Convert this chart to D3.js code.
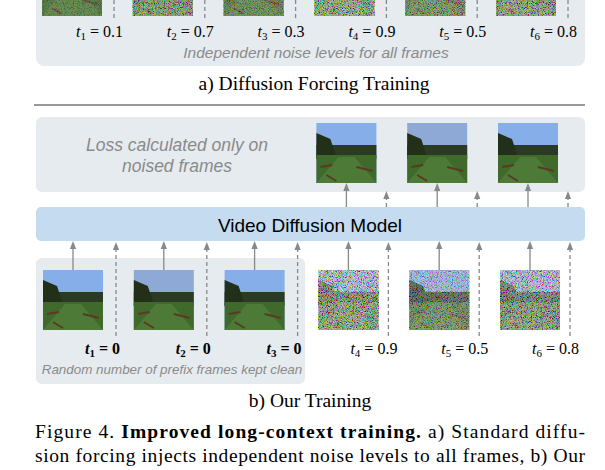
<!DOCTYPE html>
<html><head><meta charset="utf-8">
<script src="https://cdn.jsdelivr.net/npm/d3@7"></script>
<style>body{margin:0;background:#fff}</style>
</head><body>
<svg width="605" height="470"></svg>
<script>
const frames = [1, 2, 3, 4, 5, 6];
const noiseTop = [0.1, 0.7, 0.3, 0.9, 0.5, 0.8];
const noiseOurs = [0, 0, 0, 0.9, 0.5, 0.8];
const lossFrames = [4, 5, 6];

const svg = d3.select("svg");
const serif = "'Liberation Serif','DejaVu Serif',serif";
const sans = "Arial,'Liberation Sans',sans-serif";
const grey = "#8a8a8a";

const x = d3.scaleLinear().domain([1, 6]).range([42, 496]);
const imgW = 60, dashOff = 72;

const defs = svg.append("defs");
const f = defs.append("filter").attr("id", "noise").attr("x", 0).attr("y", 0).attr("width", 1).attr("height", 1);
f.append("feTurbulence").attr("type", "fractalNoise").attr("baseFrequency", 1.2).attr("numOctaves", 1).attr("seed", 3);
f.append("feColorMatrix").attr("values", "3.2 0 0 0 -1.1  0 3.2 0 0 -1.1  0 0 3.2 0 -1.1  0 0 0 0 1");
defs.append("marker").attr("id", "arr").attr("viewBox", "0 0 10 10").attr("refX", 5).attr("refY", 5)
  .attr("markerWidth", 6).attr("markerHeight", 6).attr("orient", "auto")
  .append("path").attr("d", "M0,1L10,5L0,9z").attr("fill", "#888");

function scene(g, x0, y0, t, variant) {
  const s = g.append("g").attr("transform", `translate(${x0},${y0})`);
  s.append("rect").attr("width", imgW).attr("height", 60).attr("fill", variant ? "#8fa9d6" : "#86aee8");
  s.append("rect").attr("y", 22).attr("width", imgW).attr("height", 14).attr("fill", "#2b3a22");
  s.append("path").attr("d", "M0,10 L14,16 L20,34 L0,36z").attr("fill", "#223019");
  s.append("rect").attr("y", 32).attr("width", imgW).attr("height", 28).attr("fill", "#3f6a2c");
  s.append("path").attr("d", "M22,34 L38,34 L60,60 L0,60z").attr("fill", "#4d7a36");
  s.append("path").attr("d", "M4,44 L16,42 M40,44 L56,48 M10,52 L20,58").attr("stroke", "#5a3a26").attr("stroke-width", 2);
  if (t > 0) s.append("rect").attr("width", imgW).attr("height", 60).attr("filter", "url(#noise)").attr("opacity", 0.15 + t * 0.55);
}

function label(g, rx, y, i, t, bold) {
  const tx = g.append("text").attr("x", rx).attr("y", y).attr("text-anchor", "end")
    .attr("font-family", serif).attr("font-size", 16).attr("font-weight", bold ? "bold" : "normal");
  tx.append("tspan").attr("font-style", "italic").text("t");
  tx.append("tspan").attr("font-size", 11).attr("dy", 3).text(i);
  tx.append("tspan").attr("dy", -3).text(" = " + t);
}

function arrow(x1, y1, y2, dashed) {
  svg.append("line").attr("x1", x1).attr("x2", x1).attr("y1", y1).attr("y2", y2 + 3)
    .attr("stroke", "#888").attr("stroke-width", 1.3).attr("stroke-dasharray", dashed ? "4,3" : null)
    .attr("marker-end", "url(#arr)");
}

// a) panel
svg.append("rect").attr("x", 36).attr("y", -20).attr("width", 549).attr("height", 86).attr("rx", 8).attr("fill", "#e6ebef");
frames.forEach((d, i) => {
  scene(svg, x(d), -44, noiseTop[i], i % 2);
  svg.append("line").attr("x1", x(d) + dashOff).attr("x2", x(d) + dashOff).attr("y1", 0).attr("y2", 18)
    .attr("stroke", "#888").attr("stroke-width", 1.3).attr("stroke-dasharray", "4,3");
  label(svg, x(d) + dashOff + 9, 37, d, noiseTop[i], false);
});
svg.append("text").attr("x", 316).attr("y", 58).attr("text-anchor", "middle").attr("font-family", sans)
  .attr("font-style", "italic").attr("font-size", 15.5).attr("fill", grey).text("Independent noise levels for all frames");
svg.append("text").attr("x", 314).attr("y", 90).attr("text-anchor", "middle").attr("font-family", serif)
  .attr("font-size", 19.5).text("a) Diffusion Forcing Training");
svg.append("line").attr("x1", 34).attr("x2", 585).attr("y1", 105).attr("y2", 105).attr("stroke", "#777").attr("stroke-width", 1.5);

// b) panel
svg.append("rect").attr("x", 36).attr("y", 117).attr("width", 549).attr("height", 75).attr("rx", 6).attr("fill", "#e6ebef");
["Loss calculated only on", "noised frames"].forEach((s, k) =>
  svg.append("text").attr("x", 177).attr("y", 151 + k * 21).attr("text-anchor", "middle").attr("font-family", sans)
    .attr("font-style", "italic").attr("font-size", 17.5).attr("fill", grey).text(s));
lossFrames.forEach(d => {
  scene(svg, x(d) + 2, 123, 0, d % 2);
  arrow(x(d) + 32, 207, 184, false);
  arrow(x(d) + dashOff, 207, 192, true);
});
svg.append("rect").attr("x", 36).attr("y", 207).attr("width", 549).attr("height", 34).attr("rx", 5).attr("fill", "#c5dcf0");
svg.append("text").attr("x", 310).attr("y", 232).attr("text-anchor", "middle").attr("font-family", sans)
  .attr("font-size", 19).text("Video Diffusion Model");

svg.append("rect").attr("x", 36).attr("y", 258).attr("width", 269).attr("height", 126).attr("rx", 6).attr("fill", "#e6ebef");
frames.forEach((d, i) => {
  const xi = x(d) + (i > 2 ? 4 : 1);
  scene(svg, xi, 270, noiseOurs[i], i % 2);
  arrow(xi + 30, 270, 242, false);
  arrow(x(d) + dashOff + 2, 336, 243, true);
  label(svg, x(d) + dashOff + (noiseOurs[i] === 0 ? 6 : 11), 354, d, noiseOurs[i], noiseOurs[i] === 0);
});
svg.append("text").attr("x", 172).attr("y", 374).attr("text-anchor", "middle").attr("font-family", sans)
  .attr("font-style", "italic").attr("font-size", 13.4).attr("fill", grey).text("Random number of prefix frames kept clean");
svg.append("text").attr("x", 310).attr("y", 407).attr("text-anchor", "middle").attr("font-family", serif)
  .attr("font-size", 19.5).text("b) Our Training");

const c1 = svg.append("text").attr("x", 35).attr("y", 438).attr("font-family", serif).attr("font-size", 19.5)
  .attr("textLength", 550).attr("lengthAdjust", "spacing");
c1.append("tspan").text("Figure 4.  ");
c1.append("tspan").attr("font-weight", "bold").text("Improved long-context training.");
c1.append("tspan").text("  a) Standard diffu-");
svg.append("text").attr("x", 35).attr("y", 462).attr("font-family", serif).attr("font-size", 19.5)
  .attr("textLength", 550).attr("lengthAdjust", "spacing")
  .text("sion forcing injects independent noise levels to all frames, b) Our");
</script>
</body></html>
